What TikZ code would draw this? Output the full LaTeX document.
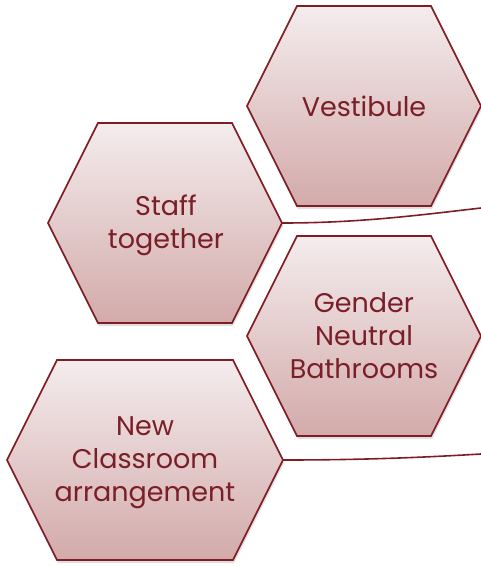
\documentclass[tikz,border=0pt]{standalone}
\usepackage{fontspec}
\setmainfont{Poppins}
\usetikzlibrary{shadows}
\definecolor{hexline}{HTML}{7F1D25}
\definecolor{hextop}{HTML}{F4ECED}
\definecolor{hexbottom}{HTML}{D3AAAA}
\definecolor{hextext}{HTML}{7A1E27}
\begin{document}
\begin{tikzpicture}
[x=1pt,y=-1pt,
 hexdecorate/.style={draw=hexline,line width=1.6pt,line join=miter,
   top color=hextop,bottom color=hexbottom,
   drop shadow={opacity=0.25,shadow xshift=1pt,shadow yshift=-3pt}},%
 labeldecorate/.style={align=center,text=hextext,font=\fontsize{27}{33}\selectfont},%
 linedecorate/.style={draw=hexline,line width=1.6pt}]
\useasboundingbox (0,0) rectangle (481,566);
% hexagons
\draw[hexdecorate] (247,106) -- ++(50,-100) -- ++(134,0) -- ++(50,100) -- ++(-50,100) -- ++(-134,0) -- cycle;
\node (vestibule) at (364,106) [labeldecorate] {Vestibule};
\draw[hexdecorate] (48,223) -- ++(50,-100) -- ++(134,0) -- ++(50,100) -- ++(-50,100) -- ++(-134,0) -- cycle;
\node (staff) at (166,225) [labeldecorate] {Staff\\together};
\draw[hexdecorate] (247,336) -- ++(50,-100) -- ++(134,0) -- ++(50,100) -- ++(-50,100) -- ++(-134,0) -- cycle;
\node (gender) at (364,336) [labeldecorate] {Gender\\Neutral\\Bathrooms};
\draw[hexdecorate] (7,460) -- ++(50,-100) -- ++(176,0) -- ++(50,100) -- ++(-50,100) -- ++(-176,0) -- cycle;
\node (classroom) at (145,463) [labeldecorate] {New\\Classroom\\arrangement};
% corners and loose ends
\coordinate (staffend) at (282,223);
\coordinate (classroomend) at (283,460);
\coordinate (edgeone) at (481,208);
\coordinate (edgetwo) at (481,454);
% lines
\draw[linedecorate] (staffend) .. controls (360,223) and (420,215) .. (edgeone);
\draw[linedecorate] (classroomend) .. controls (370,460) and (430,457) .. (edgetwo);
\end{tikzpicture}
\end{document}
